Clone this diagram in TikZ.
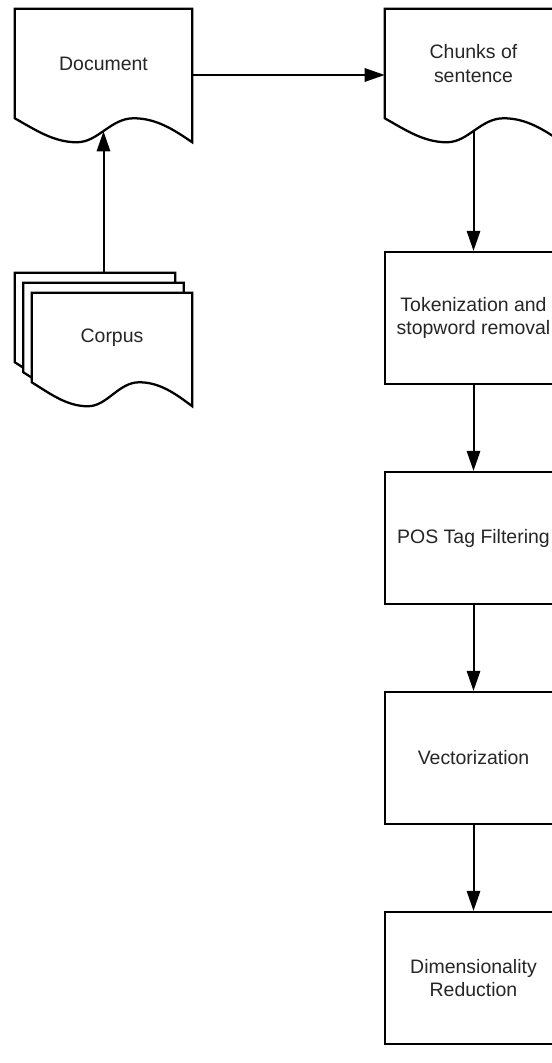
\documentclass[tikz,border=0pt]{standalone}
\usepackage{fontspec}
\setmainfont{Liberation Sans}
\usetikzlibrary{calc,arrows.meta}
\definecolor{txtgray}{HTML}{262626}
\pgfdeclarelayer{background}
\pgfsetlayers{background,main}

% outline of a document shape round a named node
\newcommand{\docoutline}[1]{%
\draw[line width=1.7pt,fill=white] (#1.north west) -- (#1.south west)
 .. controls ($(#1.south west)!0.12!(#1.south east)+(0,12)$) and ($(#1.south west)!0.22!(#1.south east)+(0,24)$) .. ($(#1.south west)!0.35!(#1.south east)+(0,24)$)
 .. controls ($(#1.south west)!0.47!(#1.south east)+(0,24)$) and ($(#1.south west)!0.54!(#1.south east)$) .. ($(#1.south west)!0.67!(#1.south east)$)
 .. controls ($(#1.south west)!0.8!(#1.south east)$) and ($(#1.south west)!0.9!(#1.south east)+(0,12)$) .. ($(#1.south east)+(0,24)$)
 -- (#1.north east) -- cycle;}

\begin{document}
\begin{tikzpicture}[x=0.75pt,y=-0.75pt,
  every node/.style={font=\fontsize{14.6}{17.5}\selectfont,text=txtgray,align=center,inner sep=0pt},
  flowbox/.style={minimum width=132.75pt,minimum height=99pt,draw,line width=1.7pt},
  docshape/.style={minimum width=132.75pt,minimum height=81.75pt},
  pageshape/.style={minimum width=120pt,minimum height=66.75pt},
  flowarrow/.style={line width=1.5pt,-{Triangle[length=15pt,width=10pt]}}]
\useasboundingbox (0,0) rectangle (552,1063);
\clip (0,0) rectangle (552,1063);
\draw (103.5,63.5) node[docshape](document) {Document};
\draw (473.5,63.5) node[docshape](chunks) {Chunks of\\sentence};
\draw (95,317.5) node[pageshape](pageback) {};
\draw (103.5,327.5) node[pageshape](pagemid) {};
\draw (112,337.5) node[pageshape](corpus) {Corpus};
\draw (473.5,318) node[flowbox](tokenize) {Tokenization and\\stopword removal};
\draw (473.5,538) node[flowbox](postag) {POS Tag Filtering};
\draw (473.5,758) node[flowbox](vectorize) {Vectorization};
\draw (473.5,978) node[flowbox](dimreduce) {Dimensionality\\Reduction};

\begin{pgfonlayer}{background}
\fill[white] (0,0) rectangle (552,1063);
\docoutline{document}
\docoutline{chunks}
\docoutline{pageback}
\docoutline{pagemid}
\docoutline{corpus}
\end{pgfonlayer}

\coordinate (docright) at ($(document.east)+(0,11.5)$);
\coordinate (chunksleft) at ($(chunks.west)+(0,11.5)$);
\coordinate (docwave) at ($(document.south)+(0,13)$);
\coordinate (chunkswave) at ($(chunks.south)+(0,13)$);
\draw[flowarrow] (docright) -- (chunksleft);
\draw[flowarrow] (pageback.north -| document.south) -- (docwave);
\draw[flowarrow] (chunkswave) -- (tokenize);
\draw[flowarrow] (tokenize) -- (postag);
\draw[flowarrow] (postag) -- (vectorize);
\draw[flowarrow] (vectorize) -- (dimreduce);
\end{tikzpicture}
\end{document}
